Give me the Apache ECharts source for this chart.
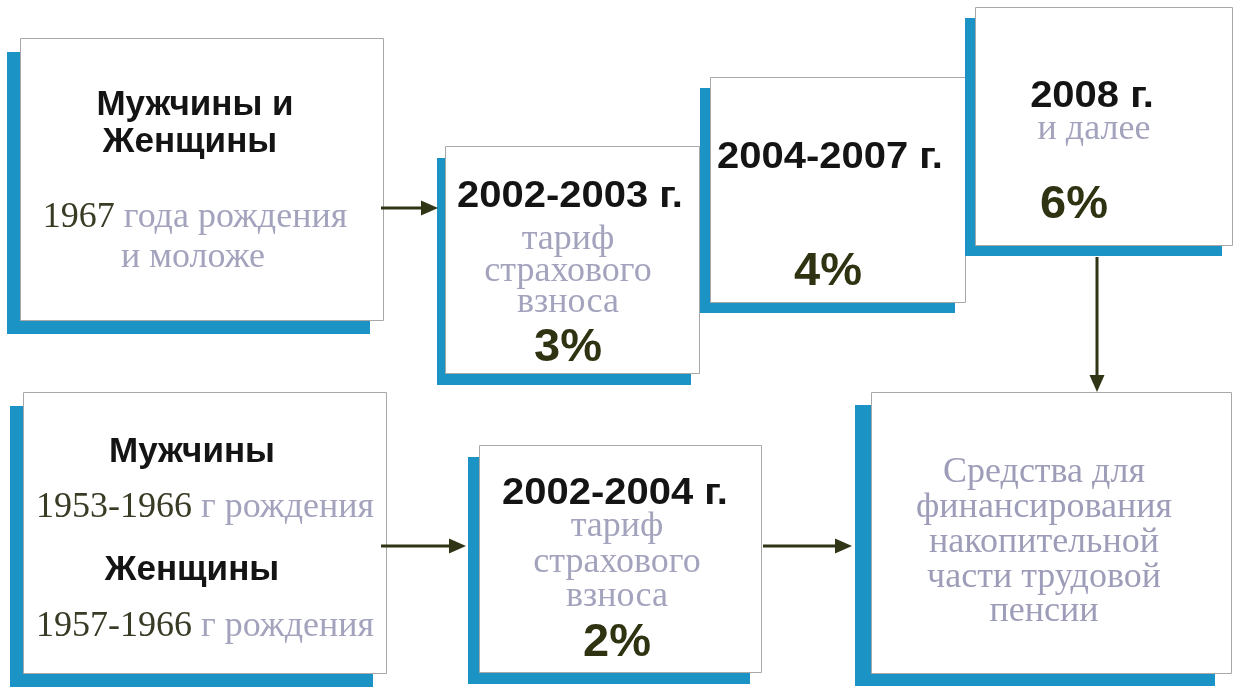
<!DOCTYPE html>
<html>
<head>
<meta charset="utf-8">
<script src="https://cdn.jsdelivr.net/npm/echarts@6/dist/echarts.min.js"></script>
<style>html,body{margin:0;padding:0;background:#fff;}#c{width:1235px;height:688px;}</style>
</head>
<body>
<div id="c"></div>
<script>
// ---- content (data) ----
const headings = ['Мужчины и', 'Женщины', 'Мужчины', 'Женщины'];
const birthYears = ['1967', '1953-1966', '1957-1966'];
const birthNotes = ['года рождения', 'и моложе', 'г рождения'];
const periods = ['2002-2003 г.', '2004-2007 г.', '2008 г.', '2002-2004 г.'];
const tariffLines = ['тариф', 'страхового', 'взноса'];
const laterNote = 'и далее';
const rates = [3, 4, 6, 2];
const targetLines = ['Средства для', 'финансирования', 'накопительной', 'части трудовой', 'пенсии'];

// ---- layout / styles ----
const BLUE = '#1b93c5', BORDER = '#a8a8a8', ARROW = '#2f3515';
const DARK = '#141414', OLIVE = '#2f3312', YEARC = '#3a3b25', GREY = '#a3a3be';
const SANS = '"Liberation Sans", Arial, sans-serif';
const SERIF = '"Liberation Serif", "Times New Roman", serif';
// [x, y, w, h, shadowDx, shadowDy]
const boxes = [
  [20, 38, 363, 282, -13, 14],
  [445, 146, 254, 227, -8, 12],
  [710, 77, 255, 225, -10, 11],
  [975, 7, 257, 238, -10, 11],
  [23, 392, 363, 281, -13, 14],
  [479, 445, 282, 227, -11, 12],
  [871, 392, 360, 281, -16, 13]
];
// arrows: [x1, y1, x2, y2]
const arrows = [
  [381, 208, 438, 208],
  [381, 546, 466, 546],
  [763, 546, 852, 546],
  [1097, 257, 1097, 392]
];

const g = [];
boxes.forEach(b => {
  g.push({type: 'rect', shape: {x: b[0] + b[4], y: b[1] + b[5], width: b[2], height: b[3]}, style: {fill: BLUE}});
  g.push({type: 'rect', shape: {x: b[0] + 0.5, y: b[1] + 0.5, width: b[2], height: b[3]}, style: {fill: '#fff', stroke: BORDER, lineWidth: 1}});
});

function txt(t, x, y, font, fill, sx) {
  g.push({type: 'text', x: x, y: y, scaleX: sx || 1, style: {text: t, font: font, fill: fill, align: 'center', verticalAlign: 'middle'}});
}
function mixed(year, note, x, y) {
  g.push({type: 'text', x: x, y: y, style: {
    text: '{a|' + year + '} {b|' + note + '}', align: 'center', verticalAlign: 'middle',
    font: '36px ' + SERIF,
    rich: {
      a: {fontSize: 36, fontFamily: SERIF, fill: YEARC},
      b: {fontSize: 36, fontFamily: SERIF, fill: GREY}
    }
  }});
}
const fHead = 'bold 35px ' + SANS;
const fPer = 'bold 37px ' + SANS;
const fRate = 'bold 47px ' + SANS;
const fSer = '36px ' + SERIF;
const PSX = 1.08;

// Box 1
txt(headings[0], 195, 105, fHead, DARK);
txt(headings[1], 190, 142, fHead, DARK);
mixed(birthYears[0], birthNotes[0], 195, 218);
txt(birthNotes[1], 193, 258, fSer, GREY);
// Box 2
txt(periods[0], 570, 197, fPer, DARK, PSX);
[240, 272, 303].forEach((y, i) => txt(tariffLines[i], 568, y, fSer, GREY));
txt(rates[0] + '%', 568, 348, fRate, OLIVE);
// Box 3
txt(periods[1], 830, 158, fPer, DARK, PSX);
txt(rates[1] + '%', 828, 272, fRate, OLIVE);
// Box 4
txt(periods[2], 1092, 97, fPer, DARK, PSX);
txt(laterNote, 1094, 130, fSer, GREY);
txt(rates[2] + '%', 1074, 205, fRate, OLIVE);
// Box 5
txt(headings[2], 192, 452, fHead, DARK);
mixed(birthYears[1], birthNotes[2], 205, 508);
txt(headings[3], 192, 570, fHead, DARK);
mixed(birthYears[2], birthNotes[2], 205, 627);
// Box 6
txt(periods[3], 615, 494, fPer, DARK, PSX);
[527, 563, 597].forEach((y, i) => txt(tariffLines[i], 617, y, fSer, GREY));
txt(rates[3] + '%', 617, 643, fRate, OLIVE);
// Box 7
[473, 508, 543, 578, 612].forEach((y, i) => txt(targetLines[i], 1044, y, '36px ' + SERIF, '#9d9db9'));

// Arrows
arrows.forEach(a => {
  const [x1, y1, x2, y2] = a;
  const ang = Math.atan2(y2 - y1, x2 - x1);
  const L = 17, W = 7.5;
  const bx = x2 - L * Math.cos(ang), by = y2 - L * Math.sin(ang);
  g.push({type: 'line', shape: {x1: x1, y1: y1, x2: bx + 2 * Math.cos(ang), y2: by + 2 * Math.sin(ang)}, style: {stroke: ARROW, lineWidth: 3}});
  g.push({type: 'polygon', shape: {points: [
    [x2, y2],
    [bx + W * Math.sin(ang), by - W * Math.cos(ang)],
    [bx - W * Math.sin(ang), by + W * Math.cos(ang)]
  ]}, style: {fill: ARROW}});
});

const chart = echarts.init(document.getElementById('c'));
chart.setOption({animation: false, backgroundColor: '#fff', graphic: {elements: g}});
</script>
</body>
</html>
